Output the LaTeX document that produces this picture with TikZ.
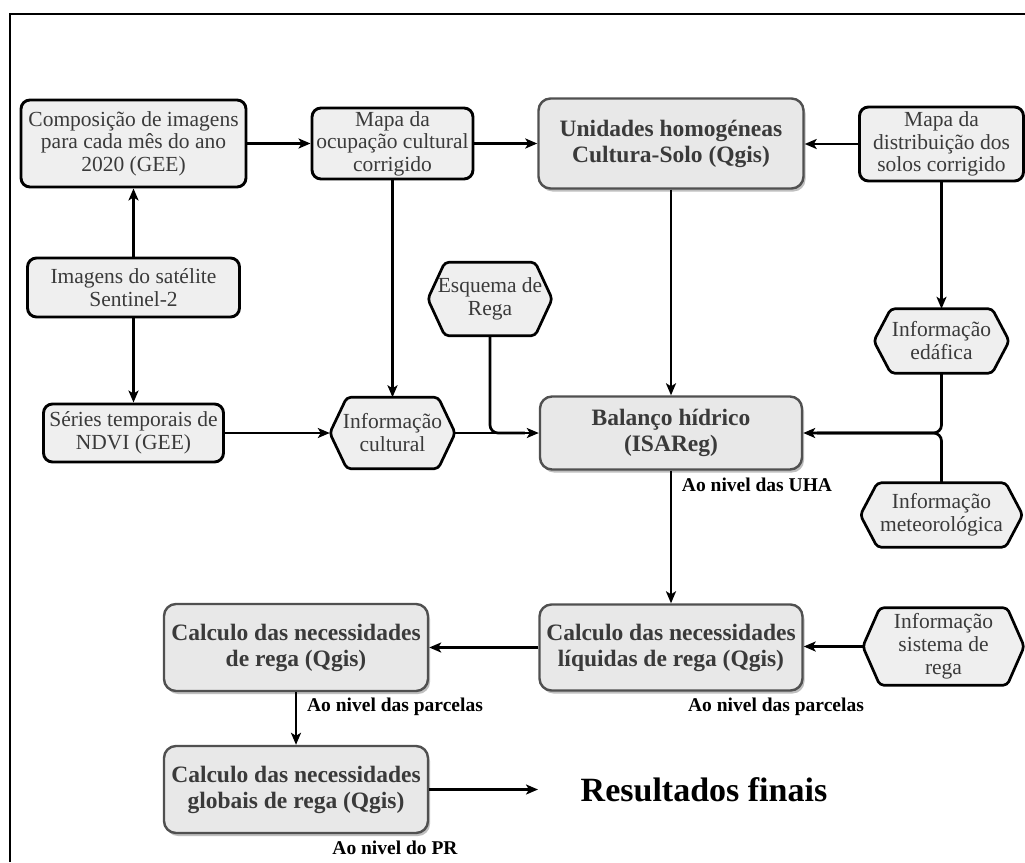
\documentclass[tikz,border=0pt]{standalone}
\usepackage{fontspec}
\setmainfont{Liberation Serif}
\usetikzlibrary{arrows.meta,shadows,backgrounds,calc}
\definecolor{boxfill}{HTML}{EFEFEF}
\definecolor{bfill}{HTML}{E8E8E8}
\definecolor{bedge}{HTML}{505050}
\definecolor{txt}{HTML}{3A3A3A}
\newcommand{\hexshape}[2]{%
  \path[draw=black, line width=2.7pt, fill=boxfill, rounded corners=4pt, line join=round]
    (#1.west) -- ([xshift=#2]#1.north west) -- ([xshift=-#2]#1.north east) -- (#1.east)
    -- ([xshift=-#2]#1.south east) -- ([xshift=#2]#1.south west) -- cycle;}
\begin{document}
\begin{tikzpicture}[x=1pt,y=-1pt,
  plainbox/.style={draw=black, line width=2.9pt, fill=boxfill, rounded corners=9pt, inner sep=2pt,
    align=center, text=txt, font=\fontsize{21.5}{22.5}\selectfont},
  mainbox/.style={draw=bedge, line width=2.4pt, fill=bfill, rounded corners=12pt, align=center,
    text=txt, font=\fontsize{23.5}{26}\selectfont\bfseries,
    drop shadow={shadow xshift=2pt, shadow yshift=-3pt, fill=black!45, opacity=0.55}},
  hexn/.style={inner sep=0pt, align=center, text=txt, font=\fontsize{21.5}{23}\selectfont},
  conn/.style={line width=2.7pt, -{Stealth[length=12pt,width=10pt,inset=3pt]}},
  plainline/.style={line width=2.7pt},
  note/.style={font=\fontsize{19.5}{21}\selectfont\bfseries, text=black},
]
\useasboundingbox (0,0) rectangle (1025,862);
\begin{pgfonlayer}{background}
\fill[white] (0,0) rectangle (1025,862);
\end{pgfonlayer}
\draw[line width=2.8pt] (10,862) -- (10,14) -- (1025,14);

% boxes
\node[plainbox, minimum width=225pt, minimum height=87pt] (comp) at (133.5,143.5) {Composição de imagens\\para cada mês do ano\\2020 (GEE)};
\node[plainbox, minimum width=161pt, minimum height=71pt] (mocup) at (392.5,143.5) {Mapa da\\ocupação cultural\\corrigido};
\node[mainbox, minimum width=265pt, minimum height=90pt] (unid) at (671,143.5) {Unidades homogéneas\\Cultura-Solo (Qgis)};
\node[plainbox, minimum width=164pt, minimum height=74pt] (mdist) at (941.5,144) {Mapa da\\distribuição dos\\solos corrigido};
\node[plainbox, minimum width=212pt, minimum height=59pt] (sent) at (133.5,287.5) {Imagens do satélite\\Sentinel-2};
\node[plainbox, minimum width=180pt, minimum height=58pt] (series) at (133.5,433) {Séries temporais de\\NDVI (GEE)};

% hexagons
\node[hexn, minimum width=125pt, minimum height=71pt] (icult) at (392.5,433) {Informação\\cultural};
\node[hexn, minimum width=124pt, minimum height=73pt] (esq) at (490,299) {Esquema de\\Rega};
\node[hexn, minimum width=135pt, minimum height=64pt] (edaf) at (941.5,341) {Informação\\edáfica};
\node[hexn, minimum width=162pt, minimum height=64pt] (meteo) at (941.5,515) {Informação\\meteorológica};
\node[hexn, minimum width=161pt, minimum height=77pt] (sist) at (943.5,646.5) {Informação\\sistema de\\rega};
\begin{pgfonlayer}{background}
\hexshape{icult}{17pt}
\hexshape{esq}{17pt}
\hexshape{edaf}{17pt}
\hexshape{meteo}{17pt}
\hexshape{sist}{17pt}
\end{pgfonlayer}

% bold boxes
\node[mainbox, minimum width=262pt, minimum height=73pt] (bal) at (671,433) {Balanço hídrico\\(ISAReg)};
\node[mainbox, minimum width=263pt, minimum height=86pt] (liq) at (671,647.5) {Calculo das necessidades\\líquidas de rega (Qgis)};
\node[mainbox, minimum width=264pt, minimum height=87pt] (rega) at (296,647.5) {Calculo das necessidades\\de rega (Qgis)};
\node[mainbox, minimum width=264pt, minimum height=87pt] (glob) at (296,789.5) {Calculo das necessidades\\globais de rega (Qgis)};

\node[font=\fontsize{34}{38}\selectfont\bfseries, text=black] (res) at (704,790) {Resultados finais};
\coordinate (resin) at (538,789.5);

% notes
\node[note] (n1) at (757,485) {Ao nivel das UHA};
\node[note] (n2) at (395,707) {Ao nivel das parcelas};
\node[note] (n3) at (776,707) {Ao nivel das parcelas};
\node[note] (n4) at (395,848) {Ao nivel do PR};

% connectors
\draw[conn] (sent.north) -- (sent.north |- comp.south);
\draw[conn] (sent.south) -- (sent.south |- series.north);
\draw[conn] (comp.east) -- (comp.east -| mocup.west);
\draw[conn] (mocup.east) -- (mocup.east -| unid.west);
\draw[conn] (mdist.west) -- (mdist.west -| unid.east);
\draw[conn] (mocup.south) -- (mocup.south |- icult.north);
\draw[conn, line width=2.1pt] (series.east) -- (series.east -| icult.west);
\draw[conn, line width=2.1pt] (icult.east) -- (icult.east -| bal.west);
\draw[plainline, rounded corners=8pt] (esq.south) |- ([xshift=-14pt]bal.west);
\draw[conn] (unid.south) -- (unid.south |- bal.north);
\draw[conn] (mdist.south) -- (mdist.south |- edaf.north);
\draw[conn, rounded corners=8pt] (edaf.south) |- (bal.east);
\draw[plainline, rounded corners=8pt] (meteo.north) |- ([xshift=14pt]bal.east);
\draw[conn] (bal.south) -- (bal.south |- liq.north);
\draw[conn, line width=3.2pt] (liq.west) -- (liq.west -| rega.east);
\draw[conn] (sist.west) -- (sist.west -| liq.east);
\draw[conn, line width=2.2pt] (rega.south) -- (rega.south |- glob.north);
\draw[conn, line width=3.2pt] (glob.east) -- (resin);
\end{tikzpicture}
\end{document}
